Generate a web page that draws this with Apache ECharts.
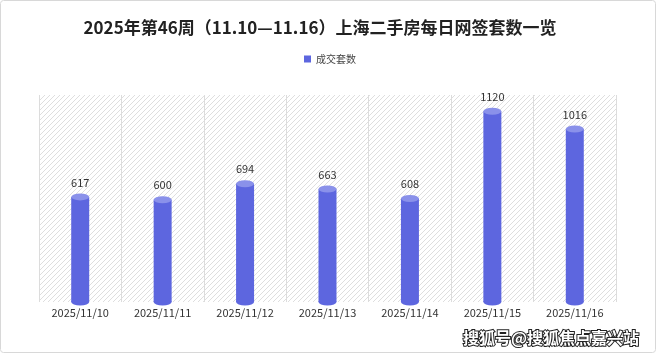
<!DOCTYPE html>
<html><head><meta charset="utf-8">
<script src="https://cdn.jsdelivr.net/npm/echarts@6/dist/echarts.min.js"></script>
<style>html,body{margin:0;padding:0;background:#fff}#c{width:660px;height:358px}</style>
</head><body><div id="c"></div>
<script>
const categories = ['2025/11/10','2025/11/11','2025/11/12','2025/11/13','2025/11/14','2025/11/15','2025/11/16'];
const values = [617, 600, 694, 663, 608, 1120, 1016];
const seriesName = '成交套数';
const titleText = '2025年第46周（11.10—11.16）上海二手房每日网签套数一览';

const pc = document.createElement('canvas');
pc.width = 5; pc.height = 5;
const g = pc.getContext('2d');
g.fillStyle = '#ffffff'; g.fillRect(0,0,5,5);
g.strokeStyle = '#d6d6d6'; g.lineWidth = 0.8;
g.beginPath();
g.moveTo(0,5); g.lineTo(5,0);
g.moveTo(-1,1); g.lineTo(1,-1);
g.moveTo(4,6); g.lineTo(6,4);
g.stroke();

const chart = echarts.init(document.getElementById('c'));
const font = '"Noto Sans CJK SC", "Noto Sans", sans-serif';
chart.setOption({
  animation: false,
  textStyle: { fontFamily: font },
  title: { text: titleText, left: 315, textAlign: 'center', top: 14,
    textStyle: { fontSize: 17, fontWeight: 'bold', color: '#222', fontFamily: font } },
  legend: { data: [seriesName], top: 49, left: 'center', itemWidth: 7, itemHeight: 7, icon: 'rect',
    textStyle: { fontSize: 10, color: '#444' }, itemGap: 6 },
  grid: { left: 39, right: 44, top: 95, bottom: 56 },
  xAxis: { type: 'category', data: categories,
    axisLine: { show: false }, axisTick: { show: false },
    axisLabel: { fontSize: 11, color: '#333', margin: 5 },
    splitLine: { show: true, interval: 0, lineStyle: { color: '#dcdcdc', width: 1 } },
    splitArea: { show: true, interval: 0, areaStyle: { color: [{ image: pc, repeat: 'repeat' }] } } },
  yAxis: { type: 'value', min: 0, max: 1215, show: false, splitLine: { show: false } },
  series: [
    { name: seriesName, type: 'bar', data: values, barWidth: 18, z: 2,
      itemStyle: { color: '#5d66df' },
      label: { show: true, position: 'top', distance: 9, fontSize: 11, color: '#333' } },
    { name: seriesName, type: 'pictorialBar', data: values, symbol: 'circle', symbolSize: [18, 7],
      symbolPosition: 'end', symbolOffset: [0, '-50%'], z: 3, itemStyle: { color: '#8a91ea' },
      tooltip: { show: false } },
    { name: seriesName, type: 'pictorialBar', data: values, symbol: 'circle', symbolSize: [18, 7],
      symbolPosition: 'start', symbolOffset: [0, '50%'], z: 1, itemStyle: { color: '#5d66df' } }
  ],
  graphic: [
    { type: 'rect', shape: { x: 0.5, y: 0.5, width: 655, height: 352, r: 3 }, z: -10,
      style: { fill: 'none', stroke: '#d8d8d8', lineWidth: 1 }, silent: true },
    { type: 'text', left: 462, top: 329, z: 100,
      style: { text: '搜狐号@搜狐焦点嘉兴站', fontSize: 16, fontWeight: 'bold', fontFamily: font,
        fill: '#ffffff', stroke: '#222', lineWidth: 2 } }
  ]
});
</script></body></html>
